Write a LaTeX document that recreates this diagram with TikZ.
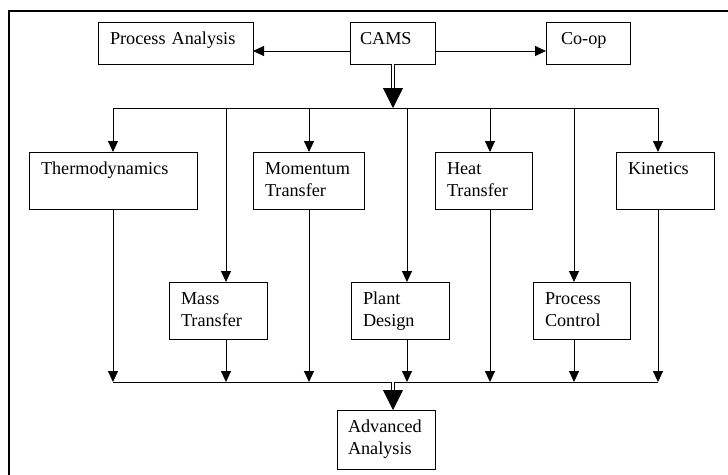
\documentclass[tikz,border=0pt]{standalone}
\usepackage{fontspec}
\setmainfont{Liberation Serif}
\usepackage{xcolor}
\usepackage{tikz}
\usetikzlibrary{arrows.meta}

\begin{document}
\begin{tikzpicture}[
    x=1pt, y=-1pt,
    box/.style={rectangle, draw, line width=0.95pt, anchor=north west, align=left, outer sep=0pt,
        inner xsep=12pt, inner ysep=10pt, text height=12.4pt, font=\fontsize{18.2pt}{21.8pt}\selectfont},
    low/.style={text depth=9.6pt},
    high/.style={text depth=24.6pt},
    arrow/.style={-{Triangle[length=11pt, width=10pt]}, line width=0.95pt},
    line/.style={line width=0.95pt},
    twin/.style={double, double distance=2pt, line width=0.8pt},
    head/.style={-{Triangle[length=20pt, width=20pt]}, line width=0.8pt}
]
    \useasboundingbox (0,0) rectangle (728,474);
    \clip (0,0) rectangle (728,474);
    \draw[line width=2pt] (8.7,490) -- (8.7,10.7) -- (740,10.7);

    \node[box, low, text width=131pt] (pa) at (98,22) {Process Analysis};
    \node[box, low, inner xsep=10pt, text width=65pt] (cams) at (350,22) {CAMS};
    \node[box, low, inner xsep=15pt, text width=54pt] (coop) at (546,22) {Co-op};

    \node[box, high, text width=144pt] (thermo) at (29,152) {Thermodynamics};
    \node[box, high, text width=87pt] (mom) at (253,152) {Momentum\\Transfer};
    \node[box, high, text width=73pt] (heat) at (435,152) {Heat\\Transfer};
    \node[box, high, text width=74pt] (kin) at (616,152) {Kinetics};
    \node[box, high, text width=74pt] (mass) at (169,282) {Mass\\Transfer};
    \node[box, high, text width=74pt] (plant) at (351,282) {Plant\\Design};
    \node[box, high, text width=73pt] (pc) at (533,282) {Process\\Control};
    \node[box, text depth=26.6pt, inner xsep=11pt, text width=76pt] (adv) at (337,410) {Advanced\\Analysis};

    \coordinate (fork) at (393,108);
    \coordinate (join) at (393,382);
    \foreach \x [count=\i] in {113,226,309,407,490,574,658} {
        \coordinate (t\i) at (\x,108);
        \coordinate (b\i) at (\x,382);
    }

    \draw[arrow] ([yshift=-8pt]cams.west) -- ([yshift=-8pt]cams.west -| pa.east);
    \draw[arrow] ([yshift=-8pt]cams.east) -- ([yshift=-8pt]cams.east -| coop.west);
    \draw[twin, shorten >=19pt] (cams.south -| fork) -- (fork);
    \draw[head] ([yshift=20pt]fork) -- (fork);

    \draw[line] (t1) -- (t7);
    \foreach \i/\n in {1/thermo, 2/mass, 3/mom, 4/plant, 5/heat, 6/pc, 7/kin} {
        \draw[arrow] (t\i) -- (t\i |- \n.north);
        \draw[arrow] (b\i |- \n.south) -- (b\i);
    }
    \draw[line] (b1) -- (b7);

    \draw[twin, shorten >=17pt] (join) -- (join |- adv.north);
    \draw[head] ([yshift=18pt]adv.north -| join) -- (adv.north -| join);
\end{tikzpicture}
\end{document}
